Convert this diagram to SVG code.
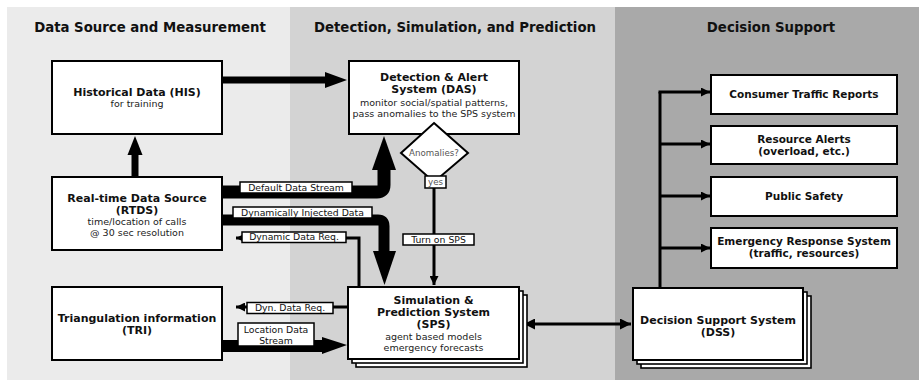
<svg xmlns="http://www.w3.org/2000/svg" width="919" height="380" viewBox="0 0 919 380">
<style>
text{font-family:"DejaVu Sans","Liberation Sans",sans-serif;fill:#111;text-anchor:middle}
.h{font-size:13.3px;font-weight:bold}
.t{font-size:11px;font-weight:bold}
.tr{font-size:10.5px;font-weight:bold}
.s{font-size:9.5px;fill:#222}
.l{font-size:9.3px}
.g{font-size:8.7px;fill:#555}
.box{fill:#fff;stroke:#000;stroke-width:2}
.page{fill:#fff;stroke:#000;stroke-width:1.6}
.lb{fill:#fff;stroke:#000;stroke-width:1.5}
.thin{fill:none;stroke:#000;stroke-width:3}
.thick{fill:none;stroke:#000;stroke-linejoin:round}
.head{fill:#000}
</style>
<defs>
<marker id="ah" viewBox="0 0 10 10" refX="10" refY="5" markerWidth="11" markerHeight="9" markerUnits="userSpaceOnUse" orient="auto-start-reverse">
<path d="M0,0 L10,5 L0,10 Z" fill="#000"/>
</marker>
<marker id="ahb" viewBox="0 0 10 10" refX="10" refY="5" markerWidth="13" markerHeight="11" markerUnits="userSpaceOnUse" orient="auto-start-reverse">
<path d="M0,0 L10,5 L0,10 Z" fill="#000"/>
</marker>
</defs>
<rect x="0" y="0" width="919" height="380" fill="#fff"/>
<rect x="7" y="7" width="283" height="373" fill="#ebebeb"/>
<rect x="290" y="7" width="325" height="373" fill="#d3d3d3"/>
<rect x="615" y="7" width="304" height="373" fill="#a9a9a9"/>
<text class="h" x="150" y="32">Data Source and Measurement</text>
<text class="h" x="455" y="32">Detection, Simulation, and Prediction</text>
<text class="h" x="771" y="32">Decision Support</text>

<g id="connectors">
<path class="thick" d="M222,80 H327" stroke-width="7"/>
<polygon class="head" points="325,72 347,80 325,88"/>
<path class="thick" d="M135,177 V152" stroke-width="7"/>
<polygon class="head" points="127.5,155 135,136 142.5,155"/>
<path class="thick" d="M222,192 H377 Q384,192 384,185 V166" stroke-width="13"/>
<polygon class="head" points="372,170 384,136 396,170"/>
<path class="thick" d="M222,220 H378 Q384,220 384,226 V254" stroke-width="11"/>
<polygon class="head" points="373,251 384.5,285 396,251"/>
<path class="thin" d="M359,287 V238 H236" marker-end="url(#ah)"/>
<path class="thin" d="M348,307 H236" marker-end="url(#ah)"/>
<path class="thick" d="M222,346 H325" stroke-width="12"/>
<polygon class="head" points="322,337 347,345 322,354"/>
<path class="thin" d="M434,186 V285" marker-end="url(#ah)"/>
<path class="thin" d="M524,324 H631" marker-start="url(#ahb)" marker-end="url(#ahb)"/>
<path class="thin" d="M660,288 V92"/>
<path class="thin" d="M658.5,92 H710" marker-end="url(#ah)"/>
<path class="thin" d="M660,144 H710" marker-end="url(#ah)"/>
<path class="thin" d="M660,196 H710" marker-end="url(#ah)"/>
<path class="thin" d="M660,248 H710" marker-end="url(#ah)"/>
<rect class="lb" x="240" y="182" width="112" height="11"/>
<text class="l" x="296" y="190.5">Default Data Stream</text>
<rect class="lb" x="233" y="207" width="139" height="11"/>
<text class="l" x="302.5" y="215.5">Dynamically Injected Data</text>
<rect class="lb" x="242" y="232" width="104" height="10.5"/>
<text class="l" x="294" y="240.3">Dynamic Data Req.</text>
<rect class="lb" x="247" y="302.5" width="86" height="11"/>
<text class="l" x="290" y="311">Dyn. Data Req.</text>
<rect class="lb" x="238" y="323" width="76" height="23"/>
<text class="l" x="276" y="333">Location Data</text>
<text class="l" x="276" y="343.5">Stream</text>
<rect class="lb" x="403" y="234" width="71" height="11"/>
<text class="l" x="438.5" y="242.5">Turn on SPS</text>
</g>

<g id="his">
<rect class="box" x="52" y="61" width="170" height="73"/>
<text class="t" x="137" y="96">Historical Data (HIS)</text>
<text class="s" x="137" y="107">for training</text>
</g>
<g id="das">
<rect class="box" x="349" y="61" width="170" height="73"/>
<text class="t" x="434" y="81">Detection &amp; Alert</text>
<text class="t" x="434" y="93">System (DAS)</text>
<text class="s" x="434" y="106">monitor social/spatial patterns,</text>
<text class="s" x="434" y="117">pass anomalies to the SPS system</text>
</g>
<g id="anomalies">
<polygon class="box" points="434,123 468,153 434,182 401,153"/>
<text class="g" x="434" y="156">Anomalies?</text>
<rect class="lb" x="425" y="176" width="21" height="12"/>
<text class="g" x="435.5" y="185">yes</text>
</g>
<g id="rtds">
<rect class="box" x="52" y="177" width="170" height="73"/>
<text class="t" x="137" y="202">Real-time Data Source</text>
<text class="t" x="137" y="214">(RTDS)</text>
<text class="s" x="137" y="225">time/location of calls</text>
<text class="s" x="137" y="236">@ 30 sec resolution</text>
</g>
<g id="tri">
<rect class="box" x="52" y="287" width="170" height="73"/>
<text class="t" x="137" y="322">Triangulation information</text>
<text class="t" x="137" y="334">(TRI)</text>
</g>
<g id="sps">
<rect class="page" x="356" y="295" width="171" height="72"/>
<rect class="page" x="352" y="291" width="171" height="72"/>
<rect class="box" x="348" y="287" width="171" height="72"/>
<text class="t" x="433.5" y="304">Simulation &amp;</text>
<text class="t" x="433.5" y="316">Prediction System</text>
<text class="t" x="433.5" y="328">(SPS)</text>
<text class="s" x="433.5" y="340">agent based models</text>
<text class="s" x="433.5" y="351">emergency forecasts</text>
</g>
<g id="dss">
<rect class="page" x="641" y="296" width="170" height="72"/>
<rect class="page" x="637" y="292" width="170" height="72"/>
<rect class="box" x="633" y="288" width="170" height="72"/>
<text class="t" x="718" y="324">Decision Support System</text>
<text class="t" x="718" y="336">(DSS)</text>
</g>
<g id="ctr">
<rect class="box" x="711" y="75" width="186" height="39"/>
<text class="tr" x="804" y="98">Consumer Traffic Reports</text>
</g>
<g id="ra">
<rect class="box" x="711" y="126" width="186" height="38"/>
<text class="tr" x="804" y="143">Resource Alerts</text>
<text class="tr" x="804" y="155">(overload, etc.)</text>
</g>
<g id="ps">
<rect class="box" x="711" y="177" width="186" height="39"/>
<text class="tr" x="804" y="200">Public Safety</text>
</g>
<g id="ers">
<rect class="box" x="711" y="228" width="186" height="40"/>
<text class="tr" x="804" y="245">Emergency Response System</text>
<text class="tr" x="804" y="257">(traffic, resources)</text>
</g>
</svg>
